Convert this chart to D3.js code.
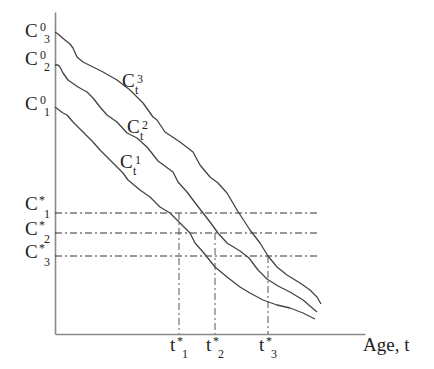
<!DOCTYPE html>
<html>
<head>
<meta charset="utf-8">
<script src="https://cdn.jsdelivr.net/npm/d3@7/dist/d3.min.js"></script>
<style>
  html, body { margin: 0; padding: 0; background: #fff; }
  svg { display: block; }
  text { font-family: "Liberation Serif", "Times New Roman", serif; fill: #222; }
</style>
</head>
<body>
<svg id="chart" width="434" height="369"></svg>
<script>
// ---- Data (age on x, concentration on y, arbitrary units) ----
const curveC1 = [[0,227],[8,221],[12,219],[18,212],[28,202],[38,192],[45,184],[58,171],[68,161],[73,154],[85,144],[95,137],[105,127],[115,121],[125,111],[135,101],[140,91],[148,82],[160,67],[172,57],[185,47],[195,41],[208,34],[222,29],[235,26],[248,21],[260,15]];
const curveC2 = [[0,269],[3,269],[5,267],[8,261],[13,254],[23,247],[32,242],[38,236],[45,227],[52,219],[62,212],[72,201],[82,196],[92,187],[96,182],[103,173],[118,162],[123,152],[132,142],[138,134],[148,121],[155,112],[163,101],[172,91],[185,83],[194,76],[203,64],[212,55],[223,48],[235,42],[248,34],[262,22]];
const curveC3 = [[0,302],[3,300],[10,294],[15,290],[18,286],[22,277],[28,272],[38,267],[48,262],[62,254],[75,244],[88,231],[98,217],[102,214],[110,202],[125,192],[138,182],[145,169],[155,157],[163,151],[172,141],[182,124],[195,104],[205,91],[213,78],[222,67],[232,59],[245,51],[255,44],[262,37],[266,30]];
const thresholds = [121, 101, 78];      // C*1, C*2, C*3
const criticalAges = [124, 160, 213];   // t*1, t*2, t*3
const thresholdEnd = 263;               // x extent of the C* lines
const subIndex = ["1", "2", "3"];
const xAxisLabel = "Age, t";

// ---- Scales ----
const xScale = d3.scaleLinear().domain([0, 310]).range([55, 365]);
const yScale = d3.scaleLinear().domain([0, 322]).range([334, 12]);

const svg = d3.select("#chart");

// Axes (plain lines, no ticks)
const xAxis = d3.axisBottom(xScale).tickValues([]).tickSizeOuter(0);
const yAxis = d3.axisLeft(yScale).tickValues([]).tickSizeOuter(0);
svg.append("g").attr("transform", `translate(0,${yScale(0)})`).call(xAxis)
  .select(".domain").attr("stroke", "#8a8a8a").attr("stroke-width", 1.6);
svg.append("g").attr("transform", `translate(${xScale(0)},0)`).call(yAxis)
  .select(".domain").attr("stroke", "#8a8a8a").attr("stroke-width", 1.6);

// Threshold lines (dash-dot)
svg.append("g").selectAll("line").data(thresholds).join("line")
  .attr("x1", xScale(0)).attr("x2", xScale(thresholdEnd))
  .attr("y1", d => yScale(d)).attr("y2", d => yScale(d))
  .attr("stroke", "#333").attr("stroke-width", 1)
  .attr("stroke-dasharray", "7,3,2,3");

// Critical age verticals
svg.append("g").selectAll("line").data(criticalAges).join("line")
  .attr("x1", d => xScale(d)).attr("x2", d => xScale(d))
  .attr("y1", (d, i) => yScale(thresholds[i])).attr("y2", yScale(0))
  .attr("stroke", "#555").attr("stroke-width", 1)
  .attr("stroke-dasharray", "7,3,2,3");

// Curves
const line = d3.line().x(d => xScale(d[0])).y(d => yScale(d[1]));
svg.append("g").selectAll("path").data([curveC1, curveC2, curveC3]).join("path")
  .attr("d", line).attr("fill", "none")
  .attr("stroke", "#444").attr("stroke-width", 1.3).attr("stroke-linejoin", "round");

// ---- Labels ----
function label(x, y, main, sup, supDx, supDy, sub, subDx, subDy) {
  const g = svg.append("g");
  g.append("text").attr("x", x).attr("y", y).attr("font-size", 19).text(main);
  g.append("text").attr("x", x + supDx).attr("y", y + supDy).attr("font-size", 12).text(sup);
  g.append("text").attr("x", x + subDx).attr("y", y + subDy).attr("font-size", 12).text(sub);
}

// C^0_i at curve starts
const starts = [curveC1[0][1], curveC2[0][1], curveC3[0][1]];
const c0Offsets = [3, 0, 5];
starts.forEach((v, i) => label(25, yScale(v) + c0Offsets[i], "C", "0", 15, -6, subIndex[i], 19, 6));

// C*_i at thresholds
const cStarOffsets = [-3, 2, 2];
thresholds.forEach((v, i) => label(25, yScale(v) + cStarOffsets[i], "C", "*", 14, -6, subIndex[i], 19, 8));

// t*_i under the axis
criticalAges.forEach((v, i) => label(xScale(v) - 9, 351, "t", "*", 7, -6, subIndex[i], 12, 7));

// C_t^i curve labels
const curveLabelPos = [[120, 168], [127, 133], [122, 87]];
curveLabelPos.forEach((p, i) => label(p[0], p[1], "C", subIndex[i], 15, -4, "t", 13, 7));

// Axis title
svg.append("text").attr("x", 363).attr("y", 351).attr("font-size", 19).text(xAxisLabel);
</script>
</body>
</html>
